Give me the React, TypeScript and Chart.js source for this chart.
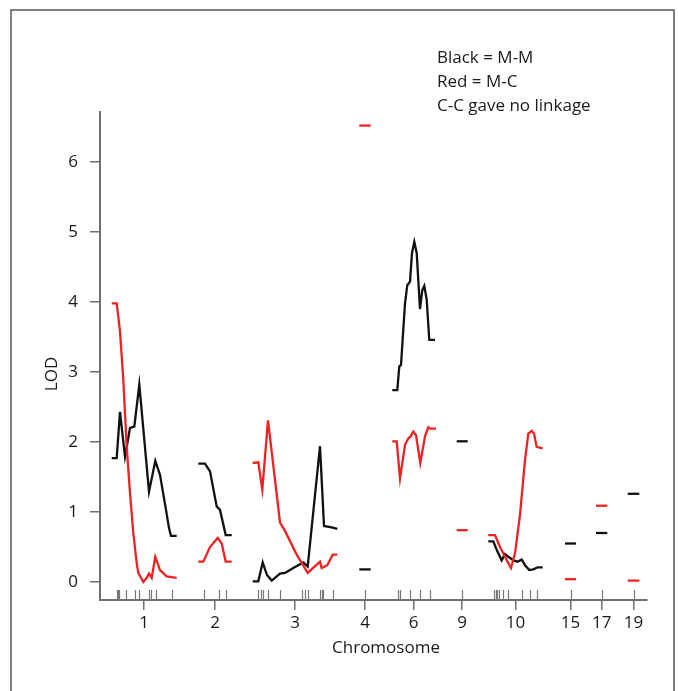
import React, { useEffect, useRef } from 'react';
import { Chart, registerables } from 'chart.js';

Chart.register(...registerables);

// Chromosome names shown on the x axis
const chromosomes = ['1', '2', '3', '4', '6', '9', '10', '15', '17', '19'];

// Genome positions (cumulative map units) and LOD, per chromosome — Black = M-M
const blackChr1 = [[11.7, 1.77], [16.7, 1.77], [20, 2.43], [25, 1.79], [30, 2.2], [34.3, 2.22], [39.3, 2.82], [49, 1.29], [55.3, 1.73], [60, 1.53], [66, 1.03], [69, 0.77], [71, 0.66], [76.7, 0.66]];
const blackChr2 = [[98.3, 1.69], [105, 1.69], [110, 1.58], [116.7, 1.08], [120, 1.03], [125.7, 0.67], [131.7, 0.67]];
const blackChr3 = [[152.7, 0.01], [158.3, 0.01], [162.7, 0.28], [167, 0.1], [171.7, 0.02], [180, 0.12], [185, 0.13], [193.3, 0.2], [203.3, 0.28], [207.7, 0.22], [220, 1.94], [224, 0.8], [231.7, 0.78], [237.3, 0.76]];
const blackChr4 = [[259.3, 0.18], [270.7, 0.18]];
const blackChr6 = [[292.3, 2.74], [297.3, 2.74], [299.3, 3.08], [301, 3.1], [305, 3.98], [307.3, 4.24], [310, 4.29], [312, 4.7], [314.3, 4.86], [316.7, 4.7], [320, 3.9], [322.3, 4.17], [324.3, 4.23], [326.7, 4.03], [329.3, 3.46], [335, 3.46]];
const blackChr9 = [[356.7, 2.01], [367.7, 2.01]];
const blackChr10 = [[388.3, 0.58], [393.3, 0.58], [396.7, 0.46], [401.7, 0.31], [405, 0.4], [408.3, 0.36], [413.3, 0.31], [417.3, 0.29], [421.7, 0.32], [425, 0.24], [429.3, 0.17], [433.3, 0.18], [437.7, 0.21], [442.7, 0.21]];
const blackChr15 = [[465, 0.55], [476, 0.55]];
const blackChr17 = [[496, 0.7], [507.3, 0.7]];
const blackChr19 = [[527.7, 1.26], [539.3, 1.26]];

// Red = M-C
const redChr1 = [[11.7, 3.98], [16.7, 3.98], [20, 3.58], [23.3, 2.89], [26.7, 1.93], [30, 1.27], [33.3, 0.7], [36.7, 0.27], [38.3, 0.13], [43.3, 0.0], [46.7, 0.06], [49, 0.12], [51.7, 0.06], [55.3, 0.36], [60, 0.17], [66.7, 0.08], [76.7, 0.06]];
const redChr2 = [[98.3, 0.29], [103.3, 0.29], [110, 0.5], [117.7, 0.63], [121.7, 0.55], [125.7, 0.29], [131.7, 0.29]];
const redChr3 = [[152.7, 1.7], [158.3, 1.71], [162.3, 1.32], [168, 2.31], [180, 0.85], [185, 0.73], [196.7, 0.39], [207.7, 0.13], [220, 0.29], [221.7, 0.2], [227.3, 0.24], [232.7, 0.39], [237.3, 0.39]];
const redChr4 = [[259.3, 6.52], [270.7, 6.52]];
const redChr6 = [[292.3, 2.01], [296.7, 2.01], [300, 1.48], [305, 1.96], [308.3, 2.05], [310.7, 2.08], [313.3, 2.15], [316, 2.1], [320.3, 1.7], [325, 2.08], [328.3, 2.21], [330.7, 2.19], [336, 2.19]];
const redChr9 = [[356.7, 0.74], [367.7, 0.74]];
const redChr10 = [[388.3, 0.67], [395, 0.67], [400, 0.5], [405, 0.36], [408.3, 0.27], [411, 0.2], [415, 0.41], [420, 0.96], [425, 1.74], [428.3, 2.12], [431.7, 2.16], [434, 2.12], [436.7, 1.93], [442.7, 1.91]];
const redChr15 = [[465, 0.04], [476, 0.04]];
const redChr17 = [[496, 1.09], [507.3, 1.09]];
const redChr19 = [[527.7, 0.02], [539.3, 0.02]];

const blackMM = [blackChr1, blackChr2, blackChr3, blackChr4, blackChr6, blackChr9, blackChr10, blackChr15, blackChr17, blackChr19];
const redMC = [redChr1, redChr2, redChr3, redChr4, redChr6, redChr9, redChr10, redChr15, redChr17, redChr19];

// Marker positions (rug)
const markers = [
  16.7, 17.7, 18.7, 26, 34.5, 39, 48.5, 51, 55.5, 71.5,
  103.5, 118.5, 125.5,
  158, 160.5, 163, 168, 180, 201.5, 205, 208, 220.3, 221.8, 223.3, 233,
  265,
  297.5, 299.5, 310, 320.2, 330.2,
  362,
  394, 395.5, 397.3, 399.4, 402.6, 408.3, 422, 429.6, 436.8,
  470.5, 501.7, 533.5,
];

const yTicks = [0, 1, 2, 3, 4, 5, 6];
const notes = ['Black = M-M', 'Red = M-C', 'C-C gave no linkage'];

const FONT = '"Open Sans", "Noto Sans", sans-serif';

const chromMid = blackMM.map((seg) => {
  const xs = seg.map((p) => p[0]);
  return (Math.min(...xs) + Math.max(...xs)) / 2;
});

const decor = {
  id: 'decor',
  afterDraw(chart: any) {
    const { ctx, chartArea, scales } = chart;
    ctx.save();
    // outer frame
    ctx.strokeStyle = '#555';
    ctx.lineWidth = 1.5;
    ctx.strokeRect(11, 10, 663, 700);
    // rug of markers
    const xs = scales.x;
    ctx.strokeStyle = '#777';
    ctx.lineWidth = 1.2;
    ctx.beginPath();
    markers.forEach((m) => {
      const px = Math.round(xs.getPixelForValue(m)) + 0.5;
      ctx.moveTo(px, chartArea.bottom);
      ctx.lineTo(px, chartArea.bottom - 10);
    });
    ctx.stroke();
    // axis titles
    ctx.fillStyle = '#1a1a1a';
    ctx.font = '17px ' + FONT;
    ctx.textAlign = 'center';
    ctx.textBaseline = 'middle';
    ctx.fillText('Chromosome', 386, 648);
    ctx.save();
    ctx.translate(52, 374);
    ctx.rotate(-Math.PI / 2);
    ctx.fillText('LOD', 0, 0);
    ctx.restore();
    // notes
    ctx.textAlign = 'left';
    notes.forEach((t, i) => ctx.fillText(t, 437, 58 + i * 24));
    ctx.restore();
  },
};

export default function App() {
  const ref = useRef<HTMLCanvasElement>(null);
  useEffect(() => {
    if (!ref.current) return;
    const datasets: any[] = [];
    redMC.forEach((seg) => {
      datasets.push({
        data: seg.map(([x, y]) => ({ x, y })),
        borderColor: '#ee2222',
        borderWidth: 2.3,
        pointRadius: 0,
        showLine: true,
        tension: 0,
      });
    });
    blackMM.forEach((seg) => {
      datasets.push({
        data: seg.map(([x, y]) => ({ x, y })),
        borderColor: '#111',
        borderWidth: 2.3,
        pointRadius: 0,
        showLine: true,
        tension: 0,
      });
    });
    const chart = new Chart(ref.current, {
      type: 'scatter',
      data: { datasets },
      plugins: [decor],
      options: {
        responsive: false,
        animation: false,
        layout: { padding: { left: 0, top: 112, right: 31, bottom: 0 } },
        plugins: { legend: { display: false }, tooltip: { enabled: false } },
        scales: {
          x: {
            type: 'linear',
            min: 0,
            max: 547,
            afterBuildTicks: (scale: any) => {
              scale.ticks = chromMid.map((v) => ({ value: v }));
            },
            afterFit: (scale: any) => {
              scale.height = 91;
            },
            ticks: {
              autoSkip: false,
              maxRotation: 0,
              color: '#1a1a1a',
              font: { family: FONT, size: 17 },
              padding: 3,
              callback: (_v: any, i: number) => chromosomes[i],
            },
            grid: { drawOnChartArea: false, drawTicks: true, tickLength: 10, color: '#6f6f6f', lineWidth: 1.5 },
            border: { display: true, color: '#6f6f6f', width: 2 },
          },
          y: {
            type: 'linear',
            min: -0.257,
            max: 6.714,
            afterBuildTicks: (scale: any) => {
              scale.ticks = yTicks.map((v) => ({ value: v }));
            },
            afterFit: (scale: any) => {
              scale.width = 100;
            },
            ticks: {
              color: '#1a1a1a',
              font: { family: FONT, size: 17 },
              padding: 12,
            },
            grid: { drawOnChartArea: false, drawTicks: true, tickLength: 10, color: '#6f6f6f', lineWidth: 1.5 },
            border: { display: true, color: '#6f6f6f', width: 2 },
          },
        },
      },
    });
    return () => chart.destroy();
  }, []);
  return (
    <div style={{ position: 'absolute', left: 0, top: 0, width: 678, height: 691, background: '#fff' }}>
      <canvas ref={ref} width={678} height={691} />
    </div>
  );
}
